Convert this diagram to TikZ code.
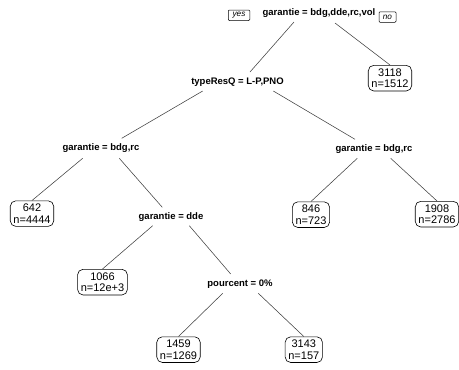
\documentclass[tikz,border=0pt]{standalone}
\usepackage{fontspec}
\setmainfont{Liberation Sans}
\begin{document}
\begin{tikzpicture}[x=1pt,y=1pt,
  split/.style={font=\fontsize{9.5}{11}\selectfont\bfseries, inner sep=0pt, anchor=center},
  leaf/.style={draw=black, line width=0.6pt, rounded corners=5.5pt, align=center,
    font=\fontsize{11}{11.5}\selectfont, inner xsep=3.2pt, inner ysep=3.2pt, anchor=north},
  yn/.style={draw=black, line width=0.5pt, rounded corners=1pt, font=\fontsize{8.2}{9}\selectfont\itshape,
    inner xsep=0pt, inner ysep=0pt, minimum height=10.5pt},
  edge/.style={draw=black!75, line width=0.55pt}]
\useasboundingbox (0,0) rectangle (459,-370);
% split labels
\node[split] (root) at (319,-13) {garantie = bdg,dde,rc,vol};
\node[yn, minimum width=21.5pt] (yes) at (239,-15.3) {yes};
\node[yn, minimum width=17pt] (no) at (387.5,-17) {no};
\node[split] (tr) at (237.5,-81.7) {typeResQ = L-P,PNO};
\node[split] (gl) at (101,-148.3) {garantie = bdg,rc};
\node[split] (gr) at (374,-149.3) {garantie = bdg,rc};
\node[split] (dde) at (171,-216.7) {garantie = dde};
\node[split] (pc) at (240,-284) {pourcent = 0\%};
% leaves
\node[leaf] (l3118) at (390,-65) {3118\\n=1512};
\node[leaf] (l642) at (32,-200.5) {642\\n=4444};
\node[leaf] (l846) at (311,-201.5) {846\\n=723};
\node[leaf] (l1908) at (437,-201) {1908\\n=2786};
\node[leaf] (l1066) at (102.5,-269) {1066\\n=12e+3};
\node[leaf] (l1459) at (178.5,-336.5) {1459\\n=1269};
\node[leaf] (l3143) at (303.8,-336.5) {3143\\n=157};
% edges
\draw[edge] ([shift={(-25,-9)}]root.center) -- ([shift={(12.5,9.7)}]tr.center);
\draw[edge] ([shift={(16,-10)}]root.center) -- (l3118.north);
\draw[edge] ([shift={(-34.8,-9.3)}]tr.center) -- ([shift={(20.7,10)}]gl.center);
\draw[edge] ([shift={(35.8,-9.3)}]tr.center) -- ([shift={(-19,10)}]gr.center);
\draw[edge] ([shift={(-18.3,-10)}]gl.center) -- (l642.north);
\draw[edge] ([shift={(18.3,-10)}]gl.center) -- ([shift={(-8.7,9.4)}]dde.center);
\draw[edge] ([shift={(-16.7,-9)}]gr.center) -- (l846.north);
\draw[edge] ([shift={(16.7,-9)}]gr.center) -- (l1908.north);
\draw[edge] ([shift={(-18.3,-9)}]dde.center) -- (l1066.north);
\draw[edge] ([shift={(18.3,-9)}]dde.center) -- ([shift={(-9.3,10)}]pc.center);
\draw[edge] ([shift={(-17.3,-9.3)}]pc.center) -- (l1459.north);
\draw[edge] ([shift={(18.3,-9.3)}]pc.center) -- (l3143.north);
\end{tikzpicture}
\end{document}
